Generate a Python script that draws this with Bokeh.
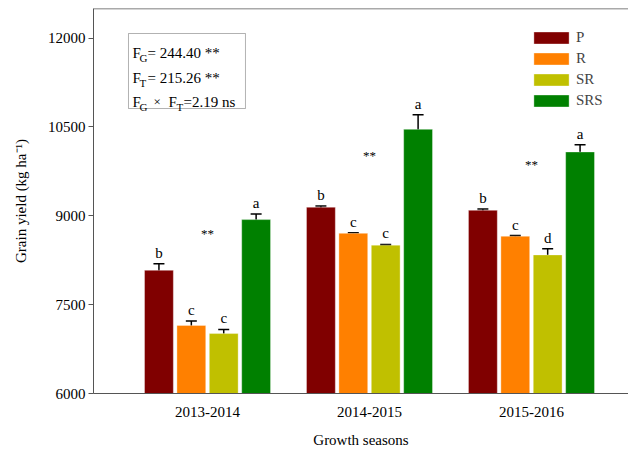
from bokeh.plotting import figure
from bokeh.models import (Range1d, FixedTicker, Whisker, ColumnDataSource, Legend,
                          LegendItem, BoxAnnotation, Label, TeeHead, Span)
from bokeh.embed import file_html
from bokeh.resources import INLINE
from bokeh.core.properties import value

# ---------------- data ----------------
seasons = ["2013-2014", "2014-2015", "2015-2016"]
treatments = ["P", "R", "SR", "SRS"]
colors = ["#800000", "#FF8000", "#C0C000", "#008000"]

P_vals = [8080, 9145, 9093]
P_err = [110, 20, 20]
R_vals = [7150, 8704, 8655]
R_err = [75, 12, 12]
SR_vals = [7012, 8505, 8340]
SR_err = [70, 12, 105]
SRS_vals = [8936, 10460, 10078]
SRS_err = [95, 245, 120]

P_letters = ["b", "b", "b"]
R_letters = ["c", "c", "c"]
SR_letters = ["c", "c", "d"]
SRS_letters = ["a", "a", "a"]

star_y = [8700, 10020, 9865]
yticks = [6000, 7500, 9000, 10500, 12000]

series_vals = [P_vals, R_vals, SR_vals, SRS_vals]
series_err = [P_err, R_err, SR_err, SRS_err]
series_letters = [P_letters, R_letters, SR_letters, SRS_letters]

FONT = "Liberation Serif"
X0, X1 = 0.296, 3.599
Y0, Y1 = 6000, 12500

p = figure(frame_width=535, frame_height=385, output_backend="svg", toolbar_location=None,
           x_range=Range1d(X0, X1), y_range=Range1d(Y0, Y1),
           min_border_left=93, min_border_right=0, min_border_top=8, min_border_bottom=58)
p.outline_line_color = None
p.grid.visible = False
p.background_fill_color = "white"

# page-pixel helpers for annotations (frame: left 93, bottom 393, 162 px / group, 385 px tall)
def px2x(px):
    return X0 + (px - 93) / 162.0

def py2y(py):
    return Y0 + (393 - py) * (Y1 - Y0) / 385.0

offsets = [-0.3, -0.1, 0.1, 0.3]
bar_w = 0.178
renderers = []
for i, t in enumerate(treatments):
    xs = [g + 1 + offsets[i] for g in range(len(seasons))]
    vals = series_vals[i]
    errs = series_err[i]
    src = ColumnDataSource(dict(
        x=xs, top=vals,
        upper=[v + e for v, e in zip(vals, errs)],
        lower=[v - e for v, e in zip(vals, errs)],
        letter=series_letters[i],
    ))
    r = p.vbar(x="x", top="top", bottom=Y0, width=bar_w, source=src,
               fill_color=colors[i], line_color="white", line_alpha=0.35, line_width=1)
    renderers.append(r)
    w = Whisker(base="x", upper="upper", lower="lower", source=src,
                line_color="black", line_width=1.5,
                upper_head=TeeHead(size=11, line_color="black", line_width=1.5),
                lower_head=TeeHead(size=11, line_color="black", line_width=1.5))
    p.add_layout(w)
    p.text(x="x", y="upper", text="letter", source=src, text_align="center",
           text_baseline="bottom", y_offset=-3, text_font=value(FONT),
           text_font_size="15px", text_color="black")

# significance stars
p.text(x=[1, 2, 3], y=star_y, text=["**"] * 3, text_align="center",
       text_baseline="middle", text_font=value(FONT), text_font_size="13px",
       text_color="black")

# top border line of the plot area
p.add_layout(Span(location=Y1, dimension="width", line_color="#555555", line_width=1.5))

# axes
p.xaxis.ticker = FixedTicker(ticks=[1, 2, 3])
p.xaxis.major_label_overrides = {1: seasons[0], 2: seasons[1], 3: seasons[2]}
p.xaxis.major_tick_out = 0
p.xaxis.major_tick_in = 0
p.xaxis.minor_tick_line_color = None
p.xaxis.axis_label = "Growth seasons"
p.xaxis.major_label_standoff = 13
p.xaxis.axis_label_standoff = 12

p.yaxis.ticker = FixedTicker(ticks=yticks)
p.yaxis.minor_tick_line_color = None
p.yaxis.major_tick_in = 0
p.yaxis.major_tick_out = 5
p.yaxis.major_label_standoff = 3
p.yaxis.axis_label = "Grain yield (kg ha\u207b\u00b9)"
p.yaxis.axis_label_standoff = 16

for ax in (p.xaxis, p.yaxis):
    ax.axis_line_color = "#555555"
    ax.major_label_text_font = FONT
    ax.major_label_text_font_size = "15px"
    ax.major_label_text_color = "black"
    ax.axis_label_text_font = FONT
    ax.axis_label_text_font_size = "15px"
    ax.axis_label_text_font_style = "normal"
    ax.axis_label_text_color = "black"
p.yaxis.major_tick_line_color = "#555555"
p.xaxis.major_tick_line_color = None

# legend
legend = Legend(items=[LegendItem(label=t, renderers=[r]) for t, r in zip(treatments, renderers)],
                location=(436, 284), glyph_width=44, glyph_height=15, label_height=16,
                label_standoff=3, spacing=4, padding=0, margin=0,
                border_line_color=None, background_fill_alpha=0,
                label_text_font=FONT, label_text_font_size="15px")
p.add_layout(legend)

# statistics box
p.add_layout(BoxAnnotation(left=px2x(128), right=px2x(245), top=py2y(33), bottom=py2y(108),
                           fill_alpha=0, line_color="black", line_width=1))

def lab(px, py, txt, size):
    p.add_layout(Label(x=px2x(px), y=py2y(py), text=txt, text_font=FONT,
                       text_font_size=size, text_baseline="alphabetic",
                       text_align="left", text_color="black"))

lab(132, 52, "F", "15px"); lab(139, 57, "G", "11px"); lab(147, 52, "= 244.40 **", "15px")
lab(132, 77, "F", "15px"); lab(139, 82, "T", "11px"); lab(147, 77, "= 215.26 **", "15px")
lab(132, 101, "F", "15px"); lab(139, 106, "G", "11px"); lab(153, 101, "\u00d7", "13px")
lab(168, 101, "F", "15px"); lab(176, 106, "T", "11px"); lab(183, 101, "=2.19 ns", "15px")

open("out.html", "w").write(file_html(p, INLINE))
